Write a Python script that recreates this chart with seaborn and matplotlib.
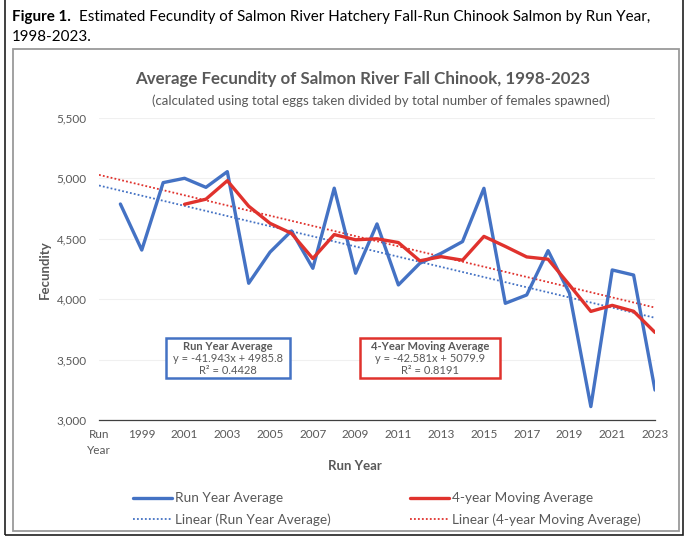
import numpy as np
import pandas as pd
import matplotlib.pyplot as plt
import seaborn as sns
from matplotlib.patches import Rectangle
from matplotlib.lines import Line2D

# data
categories = ["Run\nYear"] + [str(y) for y in range(1998, 2024)]
run_years = list(range(1998, 2024))
run_year_avg = [4788, 4407, 4965, 5001, 4926, 5056, 4132, 4390, 4565, 4256,
                4919, 4215, 4623, 4118, 4297, 4380, 4477, 4918, 3966, 4035,
                4402, 4050, 3111, 4242, 4200, 3248]
ma_years = list(range(2001, 2024))
moving_avg = [4786, 4828, 4981, 4770, 4628, 4545, 4337, 4535, 4492, 4500,
              4469, 4318, 4352, 4323, 4520, 4437, 4350, 4331, 4118, 3899,
              3949, 3900, 3725]
y_ticks = [3000, 3500, 4000, 4500, 5000, 5500]

BLUE = "#4472C4"
RED = "#E0322D"
GRAY = "#595959"

sns.set_theme(style="white")
plt.rcParams["font.family"] = ["Lato", "DejaVu Sans"]

W, H = 689, 537
fig = plt.figure(figsize=(W / 100, H / 100), dpi=100)

def px(x0, y0, x1, y1):
    return [x0 / W, 1 - y1 / H, (x1 - x0) / W, (y1 - y0) / H]

ax = fig.add_axes(px(99, 118, 655, 420))

pos = {c: i for i, c in enumerate(categories)}
df_run = pd.DataFrame({"x": [pos[str(y)] for y in run_years], "val": run_year_avg})
df_ma = pd.DataFrame({"x": [pos[str(y)] for y in ma_years], "val": moving_avg})

ax.set_xlim(0, len(categories) - 1)
ax.set_ylim(3000, 5500)

# trendlines (linear fits over the full category axis)
dots = (0, (1, 1.2))
sns.regplot(data=df_run, x="x", y="val", ax=ax, scatter=False, ci=None, truncate=False,
            line_kws={"color": BLUE, "lw": 1.3, "ls": dots})
sns.regplot(data=df_ma, x="x", y="val", ax=ax, scatter=False, ci=None, truncate=False,
            line_kws={"color": RED, "lw": 1.3, "ls": dots})

sns.lineplot(data=df_run, x="x", y="val", ax=ax, color=BLUE, lw=2.4, sort=False)
sns.lineplot(data=df_ma, x="x", y="val", ax=ax, color=RED, lw=2.4, sort=False)

ax.set_xlim(0, len(categories) - 1)
ax.set_ylim(3000, 5500)
ax.set_yticks(y_ticks)
ax.set_yticklabels([f"{v:,}" for v in y_ticks], color=GRAY, fontsize=8.5)
ax.set_xticks(range(len(categories)))
ax.set_xticklabels([c if i % 2 == 0 else "" for i, c in enumerate(categories)],
                   color=GRAY, fontsize=8.5, linespacing=1.6)
ax.tick_params(axis="x", direction="inout", length=7, width=0.9, color="#404040", pad=3)
ax.tick_params(axis="y", length=0, pad=9)
for s in ["top", "right", "left"]:
    ax.spines[s].set_visible(False)
ax.spines["bottom"].set_color("#404040")
ax.spines["bottom"].set_linewidth(0.9)
ax.yaxis.grid(True, color="#F0F0F0", lw=0.8)
ax.set_axisbelow(True)
ax.set_xlabel("")
ax.set_ylabel("")

# titles and axis labels
fig.text(363 / W, 1 - 79 / H, "Average Fecundity of Salmon River Fall Chinook, 1998-2023",
         ha="center", va="center", fontsize=12.2, fontweight="bold", color=GRAY)
fig.text(381 / W, 1 - 101 / H,
         "(calculated using total eggs taken divided by total number of females spawned)",
         ha="center", va="center", fontsize=9.5, color=GRAY)
fig.text(45 / W, 1 - 270 / H, "Fecundity", rotation=90, ha="center", va="center",
         fontsize=9.5, fontweight="bold", color=GRAY)
fig.text(355 / W, 1 - 466 / H, "Run Year", ha="center", va="center",
         fontsize=9.5, fontweight="bold", color=GRAY)

# equation boxes
for (x0, x1), title, eq, r2, col in [((166, 290), "Run Year Average", "-41.943x + 4985.8", "0.4428", BLUE),
                                      ((360, 500), "4-Year Moving Average", "-42.581x + 5079.9", "0.8191", RED)]:
    fig.add_artist(Rectangle((x0 / W, 1 - 378 / H), (x1 - x0) / W, 40 / H,
                             transform=fig.transFigure, fc="white", ec=col, lw=1.8))
    cx = (x0 + x1) / 2 / W
    fig.text(cx, 1 - 346 / H, title, ha="center", va="center",
             fontsize=8, fontweight="bold", color=GRAY)
    fig.text(cx, 1 - 358 / H, f"y = {eq}", ha="center", va="center", fontsize=8, color=GRAY)
    fig.text(cx, 1 - 370 / H, f"R\u00b2 = {r2}", ha="center", va="center", fontsize=8, color=GRAY)

# legend
h_blue = [Line2D([], [], color=BLUE, lw=2.4), Line2D([], [], color=BLUE, lw=1.3, ls=dots)]
h_red = [Line2D([], [], color=RED, lw=2.4), Line2D([], [], color=RED, lw=1.3, ls=dots)]
leg_kw = dict(frameon=False, fontsize=9.8, handlelength=2.9, handletextpad=0.2,
              labelspacing=0.65, borderpad=0, borderaxespad=0, labelcolor=GRAY,
              loc="center left")
fig.legend(h_blue, ["Run Year Average", "Linear (Run Year Average)"],
           bbox_to_anchor=(133 / W, 1 - 509 / H), **leg_kw)
fig.legend(h_red, ["4-year Moving Average", "Linear (4-year Moving Average)"],
           bbox_to_anchor=(410 / W, 1 - 509 / H), **leg_kw)

# chart frame and outer frame
fig.add_artist(Rectangle((13 / W, 1 - 531 / H), (679 - 13) / W, (531 - 49) / H,
                         transform=fig.transFigure, fill=False, ec="#9A9A9A", lw=1.3))
fig.add_artist(Rectangle((5 / W, 1 - 535 / H), (683 - 5) / W, 545 / H,
                         transform=fig.transFigure, fill=False, ec="#202020", lw=1.2,
                         clip_on=False))

# caption
cap1 = fig.text(12 / W, 1 - 17 / H, "Figure 1.", ha="left", va="center",
                fontsize=10.9, fontweight="bold", color="black")
fig.canvas.draw()
bb = cap1.get_window_extent()
fig.text((bb.x1 + 8) / W, 1 - 17 / H,
         "Estimated Fecundity of Salmon River Hatchery Fall-Run Chinook Salmon by Run Year,",
         ha="left", va="center", fontsize=10.9, color="black")
fig.text(12 / W, 1 - 37 / H, "1998-2023.", ha="left", va="center",
         fontsize=10.9, color="black")

fig.savefig("out.png", dpi=100)
